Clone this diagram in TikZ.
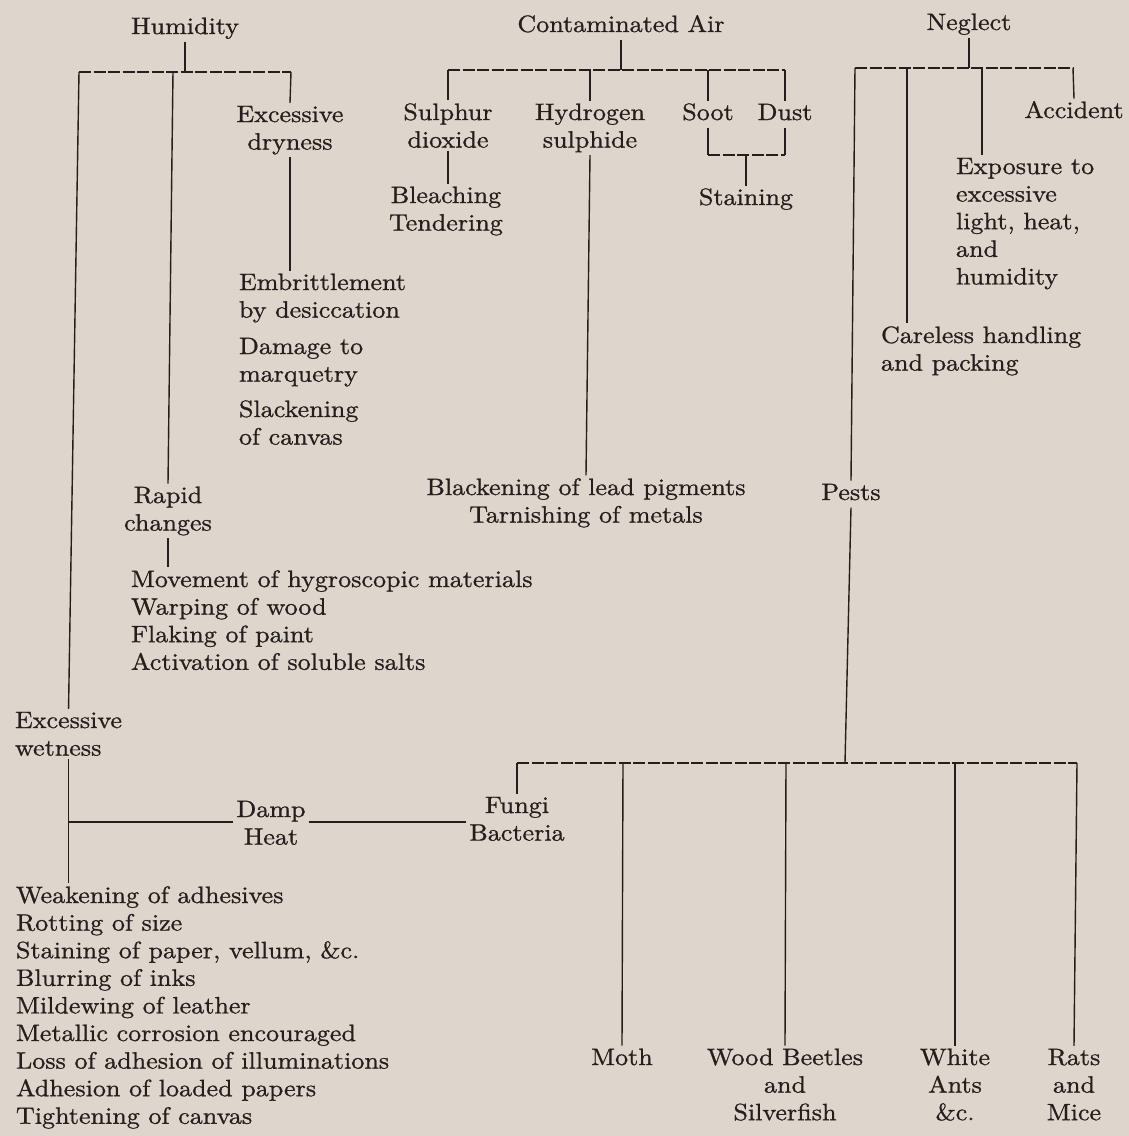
\documentclass[tikz,border=0pt]{standalone}
\usepackage{fontspec}
\setmainfont{lmroman10-regular.otf}[FakeStretch=1.1,FakeBold=0.9]
\usetikzlibrary{calc}
\definecolor{paper}{RGB}{222,214,204}
\definecolor{ink}{RGB}{36,30,28}
\begin{document}
\begin{tikzpicture}[x=1pt,y=-1pt,
  every node/.style={inner sep=0pt, outer sep=3pt, text=ink, font=\fontsize{23.7}{27.6}\selectfont},
  txt/.style={anchor=base},
  ltxt/.style={anchor=base west, align=left},
  ctxt/.style={anchor=base, align=center},
  one/.style={text height=16.3pt, text depth=4.6pt},
  link/.style={draw=ink, line width=1.4pt},
  bar/.style={draw=ink, line width=1.1pt, dash pattern=on 12pt off 2.5pt},
]
\useasboundingbox (0,0) rectangle (1129,1136);
\fill[paper] (0,0) rectangle (1129,1136);

% multi-line nodes are placed at the baseline of their LAST line

% ---------- top level ----------
\node[one,txt] (hum) at (185,34) {Humidity};
\node[one,txt] (ca) at (621,32) {Contaminated Air};
\node[one,txt] (neg) at (969,30) {Neglect};

% ---------- Humidity ----------
\coordinate (hy) at (0,72);
\coordinate (h1) at (79,72);
\coordinate (h2) at (173,72);
\coordinate (h3) at (291,72);
\draw[bar] (h1) -- (h3);
\draw[link] (hum.south) -- (hum.south |- hy);

\node[ctxt] (dry) at (290,149.6) {Excessive\\dryness};
\draw[link] (h3) -- (dry.north);
\node[ltxt] (emb) at (236,317.6) {Embrittlement\\by desiccation};
\node[ltxt] (dam) at (236,381.6) {Damage to\\marquetry};
\node[ltxt] (sla) at (236,444.6) {Slackening\\of canvas};
\draw[link] (dry.south) -- (dry.south |- emb.north);

\node[ctxt] (rap) at (168,530.6) {Rapid\\changes};
\draw[link] (h2) -- (rap.north);
\node[ltxt] (mov) at (128,669.8) {Movement of hygroscopic materials\\Warping of wood\\Flaking of paint\\Activation of soluble salts};
\draw[link] (rap.south) -- (rap.south |- mov.north);

\node[ltxt] (wet) at (12,755.6) {Excessive\\wetness};
\draw[link] (h1) -- (wet.north);
\node[ltxt] (wk) at (13,1123.8) {Weakening of adhesives\\Rotting of size\\Staining of paper, vellum, \&c.\\Blurring of inks\\Mildewing of leather\\Metallic corrosion encouraged\\Loss of adhesion of illuminations\\Adhesion of loaded papers\\Tightening of canvas};
\draw[link] (wet.south) -- (wet.south |- wk.north);

\coordinate (dy) at (0,822);
\node[ctxt] (dh) at (271,844.6) {Damp\\Heat};
\node[ctxt] (fb) at (517,840.6) {Fungi\\Bacteria};
\draw[link] (wet.south |- dy) -- (dh.west |- dy);
\draw[link] (dh.east |- dy) -- (fb.west |- dy);

% ---------- Contaminated Air ----------
\coordinate (cy) at (0,70);
\node[ctxt] (sul) at (448,147.6) {Sulphur\\dioxide};
\node[ctxt] (hyd) at (590,147.6) {Hydrogen\\sulphide};
\node[one,txt] (soot) at (708,120) {Soot};
\node[one,txt] (dust) at (785,120) {Dust};
\draw[bar] (sul.north |- cy) -- (dust.north |- cy);
\draw[link] (ca.south) -- (ca.south |- cy);
\foreach \n in {sul,hyd,soot,dust} \draw[link] (\n.north |- cy) -- (\n.north);

\node[ctxt] (ble) at (446,230.6) {Bleaching\\Tendering};
\draw[link] (sul.south) -- (sul.south |- ble.north);

\coordinate (sy) at (0,155);
\node[one,txt] (sta) at (746,205) {Staining};
\draw[link] (soot.south) -- (soot.south |- sy);
\draw[link] (dust.south) -- (dust.south |- sy);
\draw[bar] (soot.south |- sy) -- (dust.south |- sy);
\draw[link] (sta.north |- sy) -- (sta.north);

\node[ctxt] (blk) at (586,522.6) {Blackening of lead pigments\\Tarnishing of metals};
\draw[link] (hyd.south) -- (blk.north);

% ---------- Neglect ----------
\coordinate (ny) at (0,68);
\node[one,txt] (acc) at (1074,118) {Accident};
\node[ltxt] (exp) at (953,284.4) {Exposure to\\excessive\\light, heat,\\and\\humidity};
\node[ltxt] (car) at (878,370.6) {Careless handling\\and packing};
\node[one,txt] (pes) at (851,500) {Pests};
\coordinate (n1) at (855,68);
\coordinate (n2) at (907,68);
\coordinate (n3) at (982,68);
\coordinate (n4) at (1073,68);
\draw[bar] (n1) -- (n4);
\draw[link] (neg.south) -- (neg.south |- ny);
\draw[link] (n1) -- (pes.north);
\draw[link] (n2) -- (n2 |- car.north);
\draw[link] (n3) -- (n3 |- exp.north);
\draw[link] (n4) -- (acc.north);

% ---------- Pests ----------
\coordinate (by) at (0,763);
\coordinate (bp) at (845,763);
\coordinate (b1) at (623,763);
\coordinate (b2) at (786,763);
\coordinate (b3) at (955,763);
\coordinate (b4) at (1077,763);
\node[one,txt] (moth) at (622,1065) {Moth};
\node[ctxt] (wb) at (785,1120.2) {Wood Beetles\\and\\Silverfish};
\node[ctxt] (wa) at (955,1120.2) {White\\Ants\\\&c.};
\node[ctxt] (rm) at (1074,1120.2) {Rats\\and\\Mice};
\draw[bar] (fb.north |- by) -- (b4);
\draw[link] (pes.south) -- (bp);
\draw[link] (fb.north |- by) -- (fb.north);
\draw[link] (b1) -- (moth.north);
\draw[link] (b2) -- (wb.north);
\draw[link] (b3) -- (wa.north);
\draw[link] (b4) -- (rm.north);
\end{tikzpicture}
\end{document}
